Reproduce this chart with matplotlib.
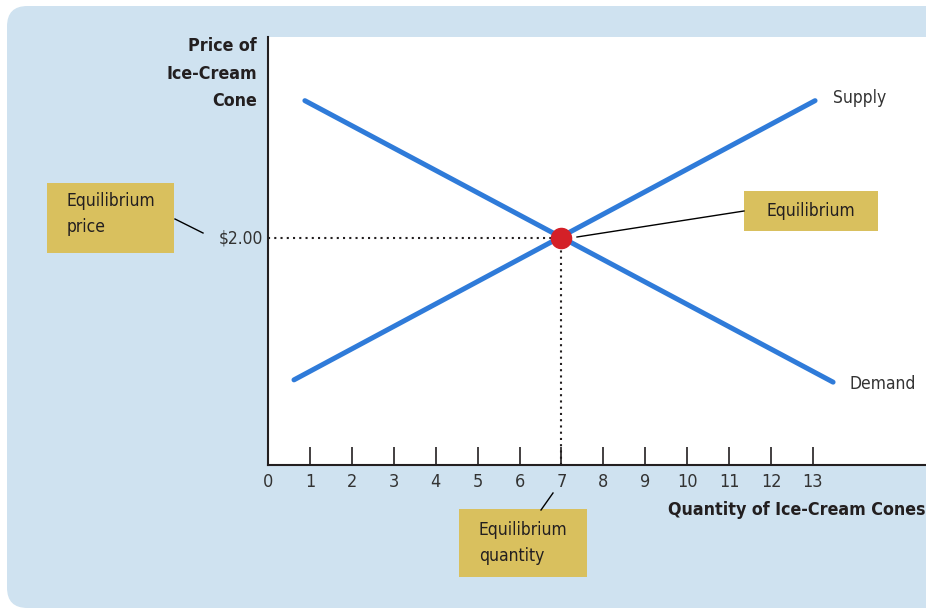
import matplotlib.pyplot as plt
from matplotlib.patches import Rectangle, FancyBboxPatch
from matplotlib.lines import Line2D

# data
demand_q = [0.88, 13.48]
demand_p = [3.21, 0.73]
supply_q = [0.62, 13.05]
supply_p = [0.75, 3.21]
eq_q, eq_p = 7, 2.00
tick_pos = list(range(1, 14))
tick_labels = [str(i) for i in range(0, 14)]

W, H = 926, 610
plt.rcParams['font.family'] = ['Liberation Sans Narrow', 'DejaVu Sans']
plt.rcParams['font.stretch'] = 'condensed'
ink = '#231f20'
gold = '#d9c05e'
blue = '#2f7bd9'
fs = 12.5
fsb = 12.8


def f(x, y):
    # pixel (from top-left) -> figure fraction
    return x / W, 1 - y / H


fig = plt.figure(figsize=(W / 100, H / 100), dpi=100)
fig.patch.set_facecolor('white')

# light blue panel
x0, y0 = f(7, 608)
panel = FancyBboxPatch((x0, y0), 1.2, (608 - 6) / H,
                       boxstyle='round,pad=0,rounding_size=0.022',
                       transform=fig.transFigure, facecolor='#cfe2f0',
                       edgecolor='none', mutation_aspect=W / H, zorder=-10)
fig.add_artist(panel)

ax = fig.add_axes([268 / W, 1 - 465 / H, (W - 268) / W, (465 - 37) / H])
ax.set_facecolor('white')
ax.set_xlim(0, (W - 268) / 41.92)
ax.set_ylim(0, 428 / 113.5)

for s in ['top', 'right']:
    ax.spines[s].set_visible(False)
for s in ['left', 'bottom']:
    ax.spines[s].set_color(ink)
    ax.spines[s].set_linewidth(1.5)

ax.set_xticks(tick_pos)
ax.set_xticklabels([])
ax.tick_params(axis='x', direction='in', length=13, width=1.2, color=ink)
ax.set_yticks([])
# numeric labels including 0
for i, lab in enumerate(tick_labels):
    ax.text(i, -0.07, lab, ha='center', va='top', fontsize=13,
            color='#333333', clip_on=False)

ax.plot(demand_q, demand_p, color=blue, lw=3.6, solid_capstyle='round')
ax.plot(supply_q, supply_p, color=blue, lw=3.6, solid_capstyle='round')
ax.plot([0, eq_q], [eq_p, eq_p], color=ink, lw=1.5, ls=(0, (1, 2)))
ax.plot([eq_q, eq_q], [0, eq_p], color=ink, lw=1.5, ls=(0, (1, 2)))
ax.plot(eq_q, eq_p, 'o', color='#d42027', ms=14.5, zorder=5)

ax.text(supply_q[1] + 0.42, supply_p[1] + 0.02, 'Supply', fontsize=fs,
        color='#333333', va='center', ha='left')
ax.text(demand_q[1] + 0.4, demand_p[1] - 0.02, 'Demand',
        fontsize=fs, color='#333333', va='center', ha='left')
ax.text(-0.12, eq_p, f'${eq_p:.2f}', fontsize=fs, color='#333333',
        ha='right', va='center', clip_on=False)

# axis titles
fig.text(*f(257, 37), 'Price of\nIce-Cream\nCone', ha='right', va='top',
         fontsize=fsb, fontweight='bold', color=ink, linespacing=1.68)
fig.text(*f(926, 510), 'Quantity of Ice-Cream Cones', ha='right',
         va='center', fontsize=fsb, fontweight='bold', color=ink)


def box(x1, y1, x2, y2):
    bx, by = f(x1, y2)
    fig.add_artist(Rectangle((bx, by), (x2 - x1) / W, (y2 - y1) / H,
                             transform=fig.transFigure, facecolor=gold,
                             edgecolor='none'))


def seg(x1, y1, x2, y2):
    a, b = f(x1, y1)
    c, d = f(x2, y2)
    fig.add_artist(Line2D([a, c], [b, d], transform=fig.transFigure,
                          color='black', lw=1))


box(47, 183, 174, 253)
fig.text(*f(67, 214), 'Equilibrium\nprice', ha='left', va='center',
         fontsize=fs, color=ink, linespacing=1.6)
seg(175, 219, 203, 233)

box(744, 191, 878, 231)
fig.text(*f(811, 211), 'Equilibrium', ha='center', va='center',
         fontsize=fs, color=ink)
seg(577, 237, 744, 211)

box(459, 509, 587, 577)
fig.text(*f(479, 543), 'Equilibrium\nquantity', ha='left', va='center',
         fontsize=fs, color=ink, linespacing=1.6)
seg(541, 510, 553, 493)

fig.savefig('out.png', dpi=100, facecolor='white')
